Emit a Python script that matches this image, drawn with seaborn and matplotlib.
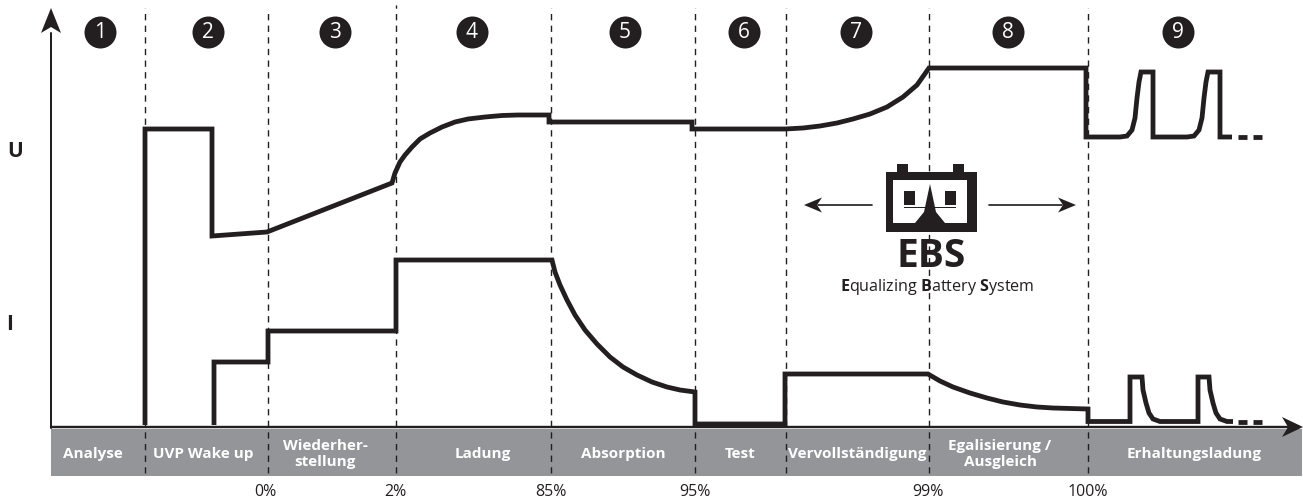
import matplotlib.pyplot as plt
import pandas as pd
import seaborn as sns
from matplotlib.patches import Polygon, Rectangle

# voltage curve, x in chart units, y = height above the time axis
u_x = [145, 145, 212, 212, 267, 392, 395, 400, 405, 412, 420, 430, 442, 455, 468, 485, 502, 518, 535, 549, 549,
       692, 692, 785, 803, 820, 837, 853, 870, 887, 903, 917, 929, 1086, 1086,
       1120, 1127, 1132, 1135, 1137, 1139, 1141, 1153, 1153,
       1187, 1194, 1199, 1202, 1204, 1206, 1208, 1220, 1220, 1232]
u_y = [0, 296, 296, 189, 193, 242, 252, 263, 270, 278, 286, 292, 298, 303, 306, 308, 309.5, 310, 310, 310, 303,
       303, 296, 296, 297, 299, 302, 306, 311, 318, 328, 340, 357, 357, 288,
       288, 289, 295, 307, 327, 343, 353, 353, 288,
       288, 289, 295, 307, 327, 343, 353, 353, 288, 288]

# current curve
i_x = [214, 214, 268, 268, 396, 396, 552, 555, 560, 567, 575, 585, 597, 610, 623, 637, 652, 667, 680, 695, 695,
       785, 785, 928, 940, 953, 970, 987, 1003, 1020, 1037, 1053, 1088, 1088,
       1130, 1130, 1142, 1143, 1146, 1149, 1153, 1160,
       1198, 1198, 1209, 1210, 1213, 1216, 1220, 1227, 1233]
i_y = [0, 63, 63, 94, 94, 165, 165, 153, 140, 125, 110, 95, 81, 68, 58, 50, 43, 38, 35, 33, 1,
       1, 51, 51, 44, 38, 32, 27, 23, 20, 18, 17, 16, 3.5,
       3.5, 48, 48, 35, 22, 12, 6, 3.5,
       3.5, 48, 48, 35, 22, 12, 6, 3.5, 3.5]

# trailing "..." dashes of both curves
tail_x = [1238, 1247, 1253, 1262]
tail_u = [288, 288, 288, 288]
tail_i = [3.5, 3.5, 3.5, 3.5]

phase_edges = [145, 268, 396, 551, 695, 786, 929, 1088]
phase_tops = [417, 416, 420, 417, 417, 417, 417, 417]
phase_nums = ["1", "2", "3", "4", "5", "6", "7", "8", "9"]
phase_num_x = [100, 208, 335, 472, 625, 744, 856, 1008, 1178]
phase_names = ["Analyse", "UVP Wake up", "Wiederher-\nstellung", "Ladung", "Absorption", "Test",
               "Vervollständigung", "Egalisierung /\nAusgleich", "Erhaltungsladung"]
phase_name_x = [93, 203, 325, 483, 623, 740, 857, 1000, 1194]
percent_labels = ["0%", "2%", "85%", "95%", "99%", "100%"]
percent_x = [265, 395, 551, 695, 928, 1088]

INK = "#231f20"
GREY = "#939598"
FONT = "Open Sans"
PX = 72 / 100  # one picture pixel in points

sns.set_theme(style="white")
plt.rcParams["font.family"] = [FONT, "DejaVu Sans"]
plt.rcParams["mathtext.fontset"] = "custom"
plt.rcParams["mathtext.rm"] = FONT
plt.rcParams["mathtext.bf"] = FONT + ":bold"


def draw_line(ax, x, y, width=4.8, color=INK, **kwargs):
    """Draws one path in the order given, with square corners."""
    df = pd.DataFrame({"x": x, "y": y})
    sns.lineplot(data=df, x="x", y="y", estimator=None, sort=False, color=color, linewidth=width * PX,
                 solid_joinstyle="miter", solid_capstyle="butt", legend=False, ax=ax, **kwargs)


def arrow_head(ax, tip, dx, dy, length, half, notch):
    """Swept back arrow head, pointing along (dx, dy)."""
    px, py = -dy, dx
    pts = [tip,
           (tip[0] - dx * length + px * half, tip[1] - dy * length + py * half),
           (tip[0] - dx * notch, tip[1] - dy * notch),
           (tip[0] - dx * length - px * half, tip[1] - dy * length - py * half)]
    ax.add_patch(Polygon(pts, closed=True, fc=INK, ec="none", zorder=6))


def draw_battery(ax):
    ax.add_patch(Rectangle((886, 193), 91, 60, fc=INK, ec="none", zorder=4))
    ax.add_patch(Rectangle((897, 253), 11, 8, fc=INK, ec="none", zorder=4))
    ax.add_patch(Rectangle((953, 253), 11, 8, fc=INK, ec="none", zorder=4))
    ax.add_patch(Rectangle((893, 202), 74, 43, fc="white", ec="none", zorder=4))
    ax.add_patch(Rectangle((904, 220), 11, 14, fc=INK, ec="none", zorder=5))
    ax.add_patch(Rectangle((945, 220), 11, 14, fc=INK, ec="none", zorder=5))
    ax.add_patch(Rectangle((904, 217), 52, 1.5, fc=INK, ec="none", zorder=5))
    ax.add_patch(Polygon([(930, 241), (924, 213), (915, 202), (945, 202), (936, 213)],
                         closed=True, fc=INK, ec="none", zorder=5))
    ax.plot([818, 872], [220, 220], color=INK, lw=1.7 * PX, zorder=5)
    ax.plot([989, 1062], [220, 220], color=INK, lw=1.7 * PX, zorder=5)
    arrow_head(ax, (804, 220), -1, 0, 18, 7.5, 13)
    arrow_head(ax, (1076, 220), 1, 0, 18, 7.5, 13)


fig, ax = plt.subplots(figsize=(13.03, 4.99), dpi=100)
ax.set_position([0, 0, 1, 1])
ax.set_xlim(0, 1303)
ax.set_ylim(-74, 425)
ax.axis("off")

# grey phase band below the time axis
ax.add_patch(Rectangle((51, -51), 1251, 47, fc=GREY, ec="none", zorder=1))

for x, top in zip(phase_edges, phase_tops):
    ax.plot([x, x], [-48, top], color=INK, lw=1.4 * PX, dashes=(4.5, 3.8), zorder=2)

# axes with arrows
ax.plot([51, 51], [-3, 392], color=INK, lw=2 * PX, zorder=5)
ax.plot([51, 1288], [-2, -2], color=INK, lw=2.4 * PX, zorder=5)
arrow_head(ax, (51, 417), 0, 1, 25, 10, 19)
arrow_head(ax, (1303, -2), 1, 0, 21, 10, 15)

draw_line(ax, u_x, u_y, zorder=3)
draw_line(ax, i_x, i_y, zorder=3)
for k in (0, 2):
    draw_line(ax, tail_x[k:k + 2], tail_u[k:k + 2], zorder=3)
    draw_line(ax, tail_x[k:k + 2], tail_i[k:k + 2], zorder=3)

# numbered phase markers
nums = pd.DataFrame({"x": phase_num_x, "y": [393] * len(phase_num_x)})
sns.scatterplot(data=nums, x="x", y="y", s=(32 * PX) ** 2, color=INK, linewidth=0, legend=False, zorder=4, ax=ax)
ax.axis("off")
for x, label in zip(phase_num_x, phase_nums):
    ax.text(x, 392.5, label, color="white", fontsize=15, ha="center", va="center", zorder=5)

for x, label in zip(phase_name_x, phase_names):
    ax.text(x, -29, label, color="white", fontsize=11, fontweight="bold", ha="center", va="center",
            linespacing=1.1, zorder=5)

for x, label in zip(percent_x, percent_labels):
    ax.text(x, -67, label, color=INK, fontsize=11.5, ha="center", va="center", zorder=5)

ax.text(15, 274, "U", color=INK, fontsize=15, fontweight="bold", ha="center", va="center")
ax.text(10, 100, "I", color=INK, fontsize=15, fontweight="bold", ha="center", va="center")

draw_battery(ax)
ax.text(931, 169, "EBS", color=INK, fontsize=28, fontweight="bold", ha="center", va="center", zorder=5)
ax.text(937, 138, r"$\mathbf{E}$qualizing $\mathbf{B}$attery $\mathbf{S}$ystem", color=INK, fontsize=11.6,
        ha="center", va="center", zorder=5)

fig.savefig("out.png", dpi=100)
